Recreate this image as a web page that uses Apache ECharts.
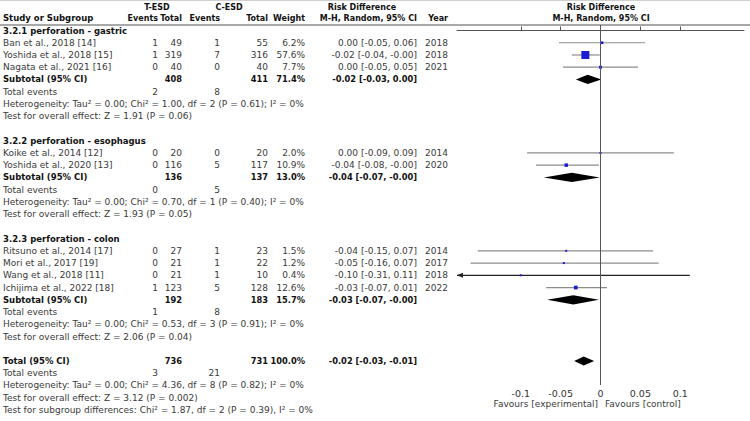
<!DOCTYPE html>
<html>
<head>
<meta charset="utf-8">
<script src="https://cdn.jsdelivr.net/npm/echarts@6/dist/echarts.min.js"></script>
<style>
html,body{margin:0;padding:0;background:#fff;}
#chart{width:750px;height:421px;}
</style>
</head>
<body>
<div id="chart"></div>
<script>
// ---------------- data ----------------
const groupTitles = ['3.2.1 perforation - gastric', '3.2.2 perforation - esophagus', '3.2.3 perforation - colon'];
const studyNames = ['Ban et al., 2018 [14]', 'Yoshida et al., 2018 [15]', 'Nagata et al., 2021 [16]',
  'Koike et al., 2014 [12]', 'Yoshida et al., 2020 [13]',
  'Ritsuno et al., 2014 [17]', 'Mori et al., 2017 [19]', 'Wang et al., 2018 [11]', 'Ichijima et al., 2022 [18]'];
const studyGroup = [0, 0, 0, 1, 1, 2, 2, 2, 2];
const tEvents = [1, 1, 0, 0, 0, 0, 0, 0, 1];
const tTotal = [49, 319, 40, 20, 116, 27, 21, 21, 123];
const cEvents = [1, 7, 0, 0, 5, 1, 1, 1, 5];
const cTotal = [55, 316, 40, 20, 117, 23, 22, 10, 128];
const weights = [6.2, 57.6, 7.7, 2.0, 10.9, 1.5, 1.2, 0.4, 12.6];
const rdEst = [0.002, -0.019, 0.000, 0.000, -0.043, -0.043, -0.046, -0.100, -0.031];
const rdLow = [-0.052, -0.036, -0.047, -0.092, -0.081, -0.154, -0.163, -0.310, -0.068];
const rdHigh = [0.056, -0.001, 0.047, 0.092, -0.002, 0.066, 0.073, 0.112, 0.008];
const years = [2018, 2018, 2021, 2014, 2020, 2014, 2017, 2018, 2022];

const subTTotal = [408, 136, 192];
const subCTotal = [411, 137, 183];
const subWeight = [71.4, 13.0, 15.7];
const subEst = [-0.016, -0.036, -0.034];
const subLow = [-0.031, -0.071, -0.067];
const subHigh = [0.001, -0.001, -0.002];
const subTEvents = [2, 0, 1];
const subCEvents = [8, 5, 8];
const hetTau = ['0.00', '0.00', '0.00'];
const hetChi = ['1.00', '0.70', '0.53'];
const hetDf = [2, 1, 3];
const hetP = ['0.61', '0.40', '0.91'];
const hetI2 = ['0%', '0%', '0%'];
const zVal = ['1.91', '1.93', '2.06'];
const zP = ['0.06', '0.05', '0.04'];

const overallTTotal = 736, overallCTotal = 731, overallWeight = 100.0;
const overallEst = -0.021, overallLow = -0.033, overallHigh = -0.008;
const overallTEvents = 3, overallCEvents = 21;
const overallHet = {tau: '0.00', chi: '4.36', df: 8, p: '0.82', i2: '0%'};
const overallZ = {z: '3.12', p: '0.002'};
const subgroupDiff = {chi: '1.87', df: 2, p: '0.39', i2: '0%'};

const xTicks = [-0.1, -0.05, 0, 0.05, 0.1];
const xMin = -0.18, xMax = 0.18;

// ---------------- layout ----------------
const FONT = '"DejaVu Sans", Verdana, sans-serif';
const FS = 9;     // regular body text
const FSB = 8.3;  // bold body text
const FSH = 8;    // bold header text
const rowY = i => 30.5 + 12.24 * i;
const gridTop = 25, gridBottomY = 385;
const col = {study: 3, tEv: 158, tTot: 182, cEv: 220, cTot: 268, weight: 305, ci: 417, year: 448};

const fmt = v => v.toFixed(2);
const ciText = (e, l, h) => fmt(e) + ' [' + fmt(l) + ', ' + fmt(h) + ']';

const texts = [];
function T(str, x, y, align, bold, size) {
  const fs = size || (bold ? FSB : FS);
  texts.push({
    type: 'text', silent: true,
    style: {
      text: String(str), x: x, y: y,
      textAlign: align || 'left', textVerticalAlign: 'middle',
      font: (bold ? 'bold ' : '') + fs + 'px ' + FONT,
      fill: bold ? '#111' : '#3a3a3a'
    }
  });
}

// header
T('T-ESD', 157, 7, 'center', true, FSH);
T('C-ESD', 229, 7, 'center', true, FSH);
T('Risk Difference', 362, 7, 'center', true, FSH);
T('Risk Difference', 601, 7, 'center', true, FSH);
T('Study or Subgroup', col.study, 18, 'left', true, 8.5);
T('Events', col.tEv, 18, 'right', true, FSH);
T('Total', col.tTot, 18, 'right', true, FSH);
T('Events', col.cEv, 18, 'right', true, FSH);
T('Total', col.cTot, 18, 'right', true, FSH);
T('Weight', col.weight, 18, 'right', true, FSH);
T('M-H, Random, 95% CI', col.ci, 18, 'right', true, FSH);
T('Year', col.year, 18, 'right', true, FSH);
T('M-H, Random, 95% CI', 601, 18, 'center', true, FSH);

const studyPts = [];
const diamondPts = [];
let r = 0;
for (let g = 0; g < groupTitles.length; g++) {
  T(groupTitles[g], col.study, rowY(r), 'left', true, 8.5);
  r++;
  for (let s = 0; s < studyNames.length; s++) {
    if (studyGroup[s] !== g) continue;
    const y = rowY(r);
    T(studyNames[s], col.study, y, 'left');
    T(tEvents[s], col.tEv, y, 'right');
    T(tTotal[s], col.tTot, y, 'right');
    T(cEvents[s], col.cEv, y, 'right');
    T(cTotal[s], col.cTot, y, 'right');
    T(weights[s].toFixed(1) + '%', col.weight, y, 'right');
    T(ciText(rdEst[s], rdLow[s], rdHigh[s]), col.ci, y, 'right');
    T(years[s], col.year, y, 'right');
    studyPts.push([r, rdEst[s], rdLow[s], rdHigh[s], weights[s]]);
    r++;
  }
  let y = rowY(r);
  T('Subtotal (95% CI)', col.study, y, 'left', true, 8.5);
  T(subTTotal[g], col.tTot, y, 'right', true);
  T(subCTotal[g], col.cTot, y, 'right', true);
  T(subWeight[g].toFixed(1) + '%', col.weight, y, 'right', true);
  T(ciText(subEst[g], subLow[g], subHigh[g]), col.ci, y, 'right', true);
  diamondPts.push([r, subEst[g], subLow[g], subHigh[g]]);
  r++;
  y = rowY(r);
  T('Total events', col.study, y, 'left');
  T(subTEvents[g], col.tEv, y, 'right');
  T(subCEvents[g], col.cEv, y, 'right');
  r++;
  T('Heterogeneity: Tau² = ' + hetTau[g] + '; Chi² = ' + hetChi[g] + ', df = ' + hetDf[g] + ' (P = ' + hetP[g] + '); I² = ' + hetI2[g], col.study, rowY(r), 'left');
  r++;
  T('Test for overall effect: Z = ' + zVal[g] + ' (P = ' + zP[g] + ')', col.study, rowY(r), 'left');
  r++;
  r++; // blank row
}
let y = rowY(r);
T('Total (95% CI)', col.study, y, 'left', true, 8.5);
T(overallTTotal, col.tTot, y, 'right', true);
T(overallCTotal, col.cTot, y, 'right', true);
T(overallWeight.toFixed(1) + '%', col.weight, y, 'right', true);
T(ciText(overallEst, overallLow, overallHigh), col.ci, y, 'right', true);
diamondPts.push([r, overallEst, overallLow, overallHigh]);
r++;
y = rowY(r);
T('Total events', col.study, y, 'left');
T(overallTEvents, col.tEv, y, 'right');
T(overallCEvents, col.cEv, y, 'right');
r++;
T('Heterogeneity: Tau² = ' + overallHet.tau + '; Chi² = ' + overallHet.chi + ', df = ' + overallHet.df + ' (P = ' + overallHet.p + '); I² = ' + overallHet.i2, col.study, rowY(r), 'left');
r++;
T('Test for overall effect: Z = ' + overallZ.z + ' (P = ' + overallZ.p + ')', col.study, rowY(r), 'left');
r++;
T('Test for subgroup differences: Chi² = ' + subgroupDiff.chi + ', df = ' + subgroupDiff.df + ' (P = ' + subgroupDiff.p + '), I² = ' + subgroupDiff.i2, col.study, rowY(r), 'left');

T('Favours [experimental]', 598, 404, 'right');
T('Favours [control]', 605, 404, 'left');

// header rules
const rules = [
  {type: 'line', silent: true, shape: {x1: 0, y1: 0.5, x2: 750, y2: 0.5}, style: {stroke: '#d0d0d0', lineWidth: 1}},
  {type: 'line', silent: true, shape: {x1: 0, y1: 25, x2: 750, y2: 25}, style: {stroke: '#a8a8a8', lineWidth: 2}}
];

const chart = echarts.init(document.getElementById('chart'), null, {renderer: 'svg'});
const iMin = (gridTop - 30.5) / 12.24, iMax = (gridBottomY - 30.5) / 12.24;

chart.setOption({
  animation: false,
  backgroundColor: '#fff',
  grid: {left: 457, right: 6, top: gridTop, bottom: 421 - gridBottomY, containLabel: false},
  xAxis: {
    type: 'value', min: xMin, max: xMax,
    axisLine: {show: true, lineStyle: {color: '#555', width: 1}},
    axisTick: {show: true, inside: true, length: 4, customValues: xTicks, lineStyle: {color: '#555'}},
    axisLabel: {show: true, customValues: xTicks, margin: 3, color: '#333', fontSize: 9.5, fontFamily: FONT,
      formatter: v => (Math.abs(v) < 1e-9 ? '0' : String(+(+v).toFixed(2)))},
    splitLine: {show: false}
  },
  yAxis: {type: 'value', inverse: true, min: iMin, max: iMax, show: false},
  graphic: rules.concat(texts),
  series: [
    {
      type: 'custom', name: 'studies', clip: false,
      data: studyPts,
      encode: {x: 1, y: 0},
      renderItem: function (params, api) {
        const row = api.value(0), est = api.value(1), lo = api.value(2), hi = api.value(3), w = api.value(4);
        const arrowL = lo < xMin, arrowR = hi > xMax;
        const pL = api.coord([Math.max(lo, xMin), row]);
        const pH = api.coord([Math.min(hi, xMax), row]);
        const p = api.coord([est, row]);
        const side = Math.max(2, 8 * Math.sqrt(w / 57.6));
        const lineColor = (arrowL || arrowR) ? '#222' : '#8c8c8c';
        const children = [
          {type: 'line', shape: {x1: pL[0], y1: pL[1], x2: pH[0], y2: pH[1]}, style: {stroke: lineColor, lineWidth: 1.2}}
        ];
        if (arrowL) children.push({type: 'polygon', shape: {points: [[pL[0], pL[1]], [pL[0] + 6, pL[1] - 2.5], [pL[0] + 6, pL[1] + 2.5]]}, style: {fill: '#222'}});
        if (arrowR) children.push({type: 'polygon', shape: {points: [[pH[0], pH[1]], [pH[0] - 6, pH[1] - 2.5], [pH[0] - 6, pH[1] + 2.5]]}, style: {fill: '#222'}});
        children.push({type: 'rect', shape: {x: p[0] - side / 2, y: p[1] - side / 2, width: side, height: side}, style: {fill: '#1c1cd4'}});
        return {type: 'group', children: children};
      }
    },
    {
      type: 'custom', name: 'diamonds', clip: false,
      data: diamondPts,
      encode: {x: 1, y: 0},
      renderItem: function (params, api) {
        const row = api.value(0), est = api.value(1), lo = api.value(2), hi = api.value(3);
        const p = api.coord([est, row]);
        const pL = api.coord([lo, row]);
        const pH = api.coord([hi, row]);
        const h = 4.6;
        return {type: 'polygon', shape: {points: [[pL[0], p[1]], [p[0], p[1] - h], [pH[0], p[1]], [p[0], p[1] + h]]}, style: {fill: '#000'}};
      },
      markLine: {
        silent: true, symbol: 'none', label: {show: false},
        lineStyle: {color: '#555', width: 1, type: 'solid'},
        data: [{xAxis: 0}]
      }
    }
  ]
});
</script>
</body>
</html>
